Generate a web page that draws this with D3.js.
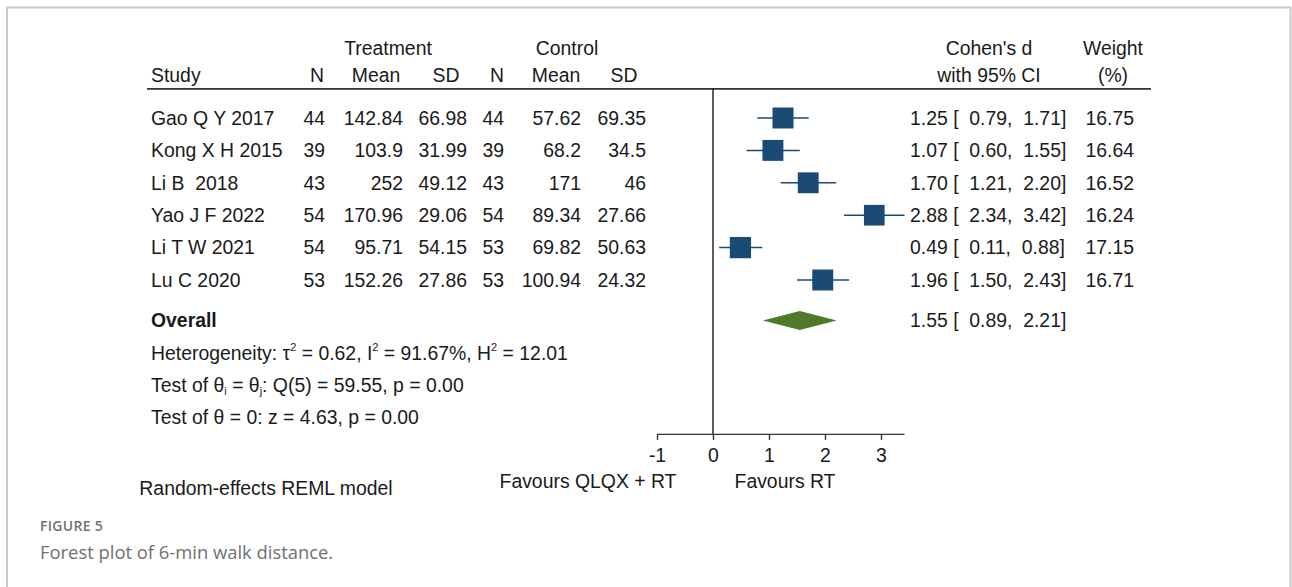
<!DOCTYPE html>
<html>
<head>
<meta charset="utf-8">
<script src="https://cdn.jsdelivr.net/npm/d3@7"></script>
<style>
  html, body { margin: 0; padding: 0; background: #fff; }
  svg { display: block; }
  .t { font-family: "Liberation Sans", Arial, sans-serif; font-size: 19.4px; fill: #1a1a1a; }
  .cap { font-family: "Open Sans", "Noto Sans", sans-serif; fill: #707070; }
</style>
</head>
<body>
<script>
// Study-level data for the 6-min walk distance meta-analysis
const studies   = ["Gao Q Y 2017", "Kong X H 2015", "Li B  2018", "Yao J F 2022", "Li T W 2021", "Lu C 2020"];
const treatN    = [44, 39, 43, 54, 54, 53];
const treatMean = ["142.84", "103.9", "252", "170.96", "95.71", "152.26"];
const treatSD   = ["66.98", "31.99", "49.12", "29.06", "54.15", "27.86"];
const ctrlN     = [44, 39, 43, 54, 53, 53];
const ctrlMean  = ["57.62", "68.2", "171", "89.34", "69.82", "100.94"];
const ctrlSD    = ["69.35", "34.5", "46", "27.66", "50.63", "24.32"];
const effect    = [1.25, 1.07, 1.70, 2.88, 0.49, 1.96];
const ciLow     = [0.79, 0.60, 1.21, 2.34, 0.11, 1.50];
const ciHigh    = [1.71, 1.55, 2.20, 3.42, 0.88, 2.43];
const weights   = [16.75, 16.64, 16.52, 16.24, 17.15, 16.71];
const overall   = { est: 1.55, lo: 0.89, hi: 2.21 };
const xTicks    = [-1, 0, 1, 2, 3];

const W = 1292, H = 587;
const svg = d3.select("body").append("svg").attr("width", W).attr("height", H);

// Outer frame (top, left, right edges)
svg.append("path")
  .attr("d", "M7,587 L7,7.5 L1290.5,7.5 L1290.5,587")
  .attr("fill", "none").attr("stroke", "#c9c9c9").attr("stroke-width", 2);

// Scales: effect size -> x, row index -> y
const x = d3.scaleLinear().domain([0, 1]).range([713, 769]);
const y = d3.scaleLinear().domain([0, 1]).range([118, 150.4]);
const sizeK = 21 / Math.sqrt(16.75);

const g = svg.append("g");
const txt = (xx, yy, s, anchor = "start") =>
  g.append("text").attr("class", "t").attr("x", xx).attr("y", yy).attr("dy", "0.35em")
    .attr("text-anchor", anchor).style("white-space", "pre").text(s);

// Column headers
txt(388, y(-2.14), "Treatment", "middle");
txt(567, y(-2.14), "Control", "middle");
txt(151, y(-1.33), "Study");
[[317, "N"], [376, "Mean"], [446, "SD"], [497, "N"], [556, "Mean"], [624, "SD"]]
  .forEach(([cx, s]) => txt(cx, y(-1.33), s, "middle"));
txt(989, y(-2.14), "Cohen's d", "middle");
txt(989, y(-1.33), "with 95% CI", "middle");
txt(1113, y(-2.14), "Weight", "middle");
txt(1113, y(-1.33), "(%)", "middle");

// Header rule
g.append("line").attr("x1", 147).attr("x2", 1151).attr("y1", y(-0.9)).attr("y2", y(-0.9))
  .attr("stroke", "#333").attr("stroke-width", 1.6);

// Line of no effect
g.append("line").attr("x1", x(0)).attr("x2", x(0)).attr("y1", y(-0.9)).attr("y2", y(9.75))
  .attr("stroke", "#1a1a1a").attr("stroke-width", 1.4);

// Effect size with its confidence interval, Stata-style spacing
const fmt = d3.format(".2f");
const ciText = (e, lo, hi) => `${fmt(e)} [  ${fmt(lo)},  ${fmt(hi)}]`;

// Study rows
studies.forEach((s, i) => {
  const yy = y(i);
  txt(151, yy, s);
  txt(325, yy, String(treatN[i]), "end");
  txt(403, yy, treatMean[i], "end");
  txt(467, yy, treatSD[i], "end");
  txt(504, yy, String(ctrlN[i]), "end");
  txt(581, yy, ctrlMean[i], "end");
  txt(646, yy, ctrlSD[i], "end");
  txt(910, yy, ciText(effect[i], ciLow[i], ciHigh[i]));
  txt(1134, yy, fmt(weights[i]), "end");

  g.append("line").attr("x1", x(ciLow[i])).attr("x2", x(ciHigh[i])).attr("y1", yy).attr("y2", yy)
    .attr("stroke", "#1b4a74").attr("stroke-width", 1.5);
  const side = sizeK * Math.sqrt(weights[i]);
  g.append("rect").attr("x", x(effect[i]) - side / 2).attr("y", yy - side / 2)
    .attr("width", side).attr("height", side).attr("fill", "#1b4a74");
});

// Overall pooled estimate
const yo = y(6.25);
g.append("text").attr("class", "t").attr("x", 151).attr("y", yo).attr("dy", "0.35em")
  .attr("font-weight", "bold").text("Overall");
g.append("path")
  .attr("d", `M${x(overall.lo)},${yo} L${x(overall.est)},${yo - 9.5} L${x(overall.hi)},${yo} L${x(overall.est)},${yo + 9.5} Z`)
  .attr("fill", "#4f7a2a");
txt(910, yo, ciText(overall.est, overall.lo, overall.hi));

// Heterogeneity and test statistics (super/subscripts shifted in px)
const sup = (t, s) => {
  t.append("tspan").attr("font-size", "11px").attr("dy", -9).text(s);
};
const het = g.append("text").attr("class", "t").attr("x", 151).attr("y", y(7.25) + 7);
het.append("tspan").text("Heterogeneity: τ");
sup(het, "2");
het.append("tspan").attr("dy", 9).text(" = 0.62, I");
sup(het, "2");
het.append("tspan").attr("dy", 9).text(" = 91.67%, H");
sup(het, "2");
het.append("tspan").attr("dy", 9).text(" = 12.01");

const q = g.append("text").attr("class", "t").attr("x", 151).attr("y", y(8.25) + 7);
q.append("tspan").text("Test of θ");
q.append("tspan").attr("font-size", "11px").attr("dy", 3).text("i");
q.append("tspan").attr("dy", -3).text(" = θ");
q.append("tspan").attr("font-size", "11px").attr("dy", 3).text("j");
q.append("tspan").attr("dy", -3).text(": Q(5) = 59.55, p = 0.00");

txt(151, y(9.25), "Test of θ = 0: z = 4.63, p = 0.00");

// X axis
const axisY = y(9.75);
const axis = d3.axisBottom(x).tickValues(xTicks).tickSize(6).tickPadding(8).tickFormat(d => String(d));
const ag = svg.append("g").attr("transform", `translate(0,${axisY})`).call(axis);
ag.select(".domain").attr("d", `M${x(-1)},0.5 H${x(3.42)}`).attr("stroke", "#333").attr("stroke-width", 1.4);
ag.selectAll(".tick line").attr("stroke", "#333").attr("stroke-width", 1.4);
ag.selectAll(".tick text").attr("class", "t").attr("fill", "#1a1a1a")
  .style("font-family", "'Liberation Sans', Arial, sans-serif").style("font-size", "19.4px");

txt(588, 481, "Favours QLQX + RT", "middle");
txt(785, 481, "Favours RT", "middle");
txt(266, 488, "Random-effects REML model", "middle");

// Figure caption
svg.append("text").attr("class", "cap").attr("x", 40).attr("y", 531)
  .attr("font-size", "14px").attr("font-weight", "600").attr("letter-spacing", "0.3px").text("FIGURE 5");
svg.append("text").attr("class", "cap").attr("x", 40).attr("y", 558.5)
  .attr("font-size", "18.4px").text("Forest plot of 6-min walk distance.");
</script>
</body>
</html>
